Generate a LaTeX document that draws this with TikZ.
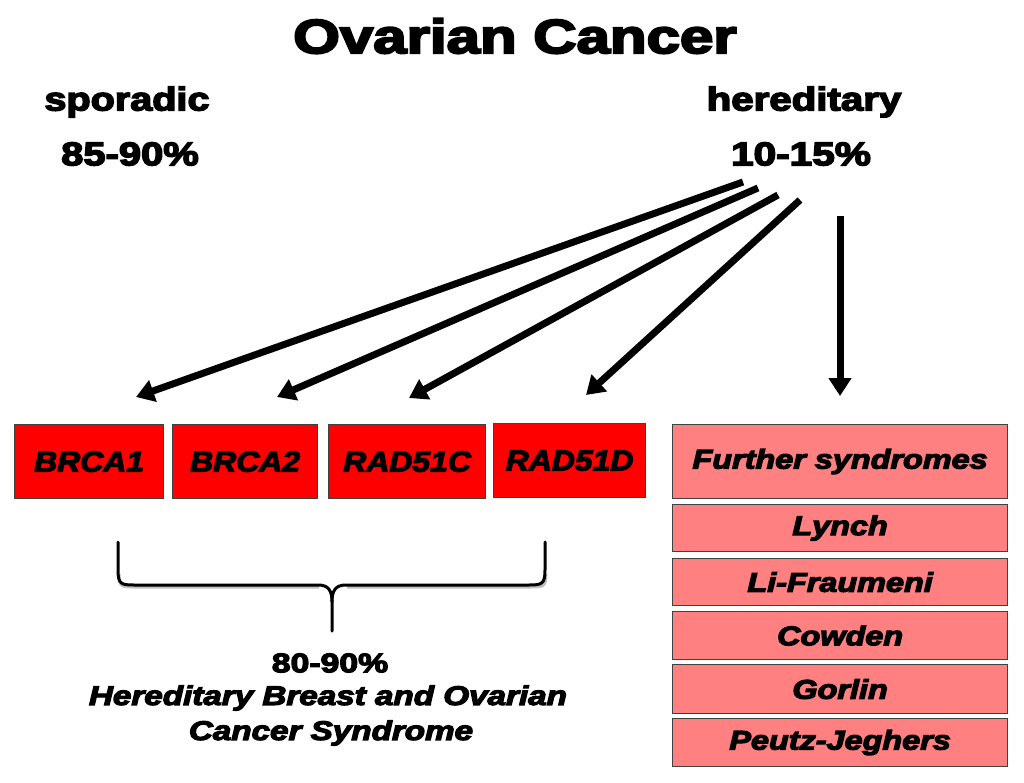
\documentclass[tikz,border=0pt]{standalone}
\usepackage{graphicx}
\usepackage{fontspec}
\setmainfont{Liberation Sans}[BoldFont={Liberation Sans Bold},BoldItalicFont={Liberation Sans Bold Italic},BoldFeatures={FakeBold=4},BoldItalicFeatures={FakeBold=4}]
\usetikzlibrary{arrows.meta}
\definecolor{boxred}{HTML}{FF0000}
\definecolor{boxpink}{HTML}{FF8080}
\definecolor{boxedge}{HTML}{404040}
\newcommand{\hs}[2]{\scalebox{#1}[1]{#2}}
\tikzset{
  genebox/.style={draw=boxedge, line width=1.2pt, fill=boxred, minimum height=74pt, inner sep=0pt, font=\fontsize{29}{32}\selectfont\bfseries\itshape, anchor=north west},
  synbox/.style={draw=boxedge, line width=1.2pt, fill=boxpink, minimum width=335pt, inner sep=0pt, font=\fontsize{27}{30}\selectfont\bfseries\itshape, anchor=north west},
  bigarrow/.style={line width=7pt, -{Triangle[length=18pt,width=22pt]}},
  head/.style={font=\fontsize{33}{36}\selectfont\bfseries},
  foot/.style={font=\fontsize{27}{30}\selectfont\bfseries},
}
\begin{document}
\begin{tikzpicture}[x=1pt,y=-1pt]
\useasboundingbox (0,0) rectangle (1024,783);
% title
\node[font=\fontsize{48}{54}\selectfont\bfseries] (title) at (515,36) {\hs{1.25}{Ovarian Cancer}};
\node[head] (spor) at (127,102) {\hs{1.2}{sporadic}};
\node[head] (sporp) at (130,154) {\hs{1.21}{85-90\%}};
\node[head] (her) at (804,102) {\hs{1.22}{hereditary}};
\node[head] (herp) at (801,154) {\hs{1.23}{10-15\%}};
% gene boxes
\node[genebox, minimum width=149pt] (b1) at (14,424) {\hs{1.1}{BRCA1}};
\node[genebox, minimum width=145pt] (b2) at (172,424) {\hs{1.1}{BRCA2}};
\node[genebox, minimum width=157pt] (b3) at (328,424) {\hs{1.1}{RAD51C}};
\node[genebox, minimum width=152pt] (b4) at (493,423) {\hs{1.1}{RAD51D}};
% syndrome boxes
\node[synbox, minimum height=74pt] (f0) at (672,424) {\hs{1.2}{Further syndromes}};
\node[synbox, minimum height=47pt] (f1) at (672,504) {\hs{1.2}{Lynch}};
\node[synbox, minimum height=47pt] (f2) at (672,558) {\hs{1.2}{Li-Fraumeni}};
\node[synbox, minimum height=48pt] (f3) at (672,611) {\hs{1.2}{Cowden}};
\node[synbox, minimum height=49pt] (f4) at (672,664) {\hs{1.2}{Gorlin}};
\node[synbox, minimum height=48pt] (f5) at (672,718) {\hs{1.2}{Peutz-Jeghers}};
% arrows
\coordinate (s1) at (743,182);
\coordinate (s2) at (758,188);
\coordinate (s3) at (778,195);
\coordinate (s4) at (800,200);
\coordinate (s5) at (840,216);
\coordinate (t1) at (136,397);
\coordinate (t2) at (277,397);
\coordinate (t3) at (409,398);
\coordinate (t4) at (586,395);
\coordinate (t5) at (840,396);
\draw[bigarrow] (s1) -- (t1);
\draw[bigarrow] (s2) -- (t2);
\draw[bigarrow] (s3) -- (t3);
\draw[bigarrow] (s4) -- (t4);
\draw[bigarrow] (s5) -- (t5);
% brace
\coordinate (bl) at (118,542);
\coordinate (br) at (545,542);
\coordinate (bt) at (332,631);
\draw[line width=3pt, black!25, shift={(1pt,-2pt)}] (118,572) .. controls (118,585) and (121,585) .. (134,585) -- (318,585) (346,585) -- (529,585) .. controls (542,585) and (545,585) .. (545,572);
\draw[line width=3pt, line cap=round] (bl) -- (118,570) .. controls (118,584) and (121,585) .. (134,585) -- (318,585) .. controls (328,585) and (332,590) .. (332,602) -- (bt);
\draw[line width=3pt, line cap=round] (br) -- (545,570) .. controls (545,584) and (542,585) .. (529,585) -- (346,585) .. controls (336,585) and (332,590) .. (332,602);
% bottom text
\node[foot] (pct) at (330,663) {\hs{1.25}{80-90\%}};
\node[foot, font=\fontsize{27}{30}\selectfont\bfseries\itshape] (hb1) at (328,698) {\hs{1.23}{Hereditary Breast and Ovarian}};
\node[foot, font=\fontsize{27}{30}\selectfont\bfseries\itshape] (hb2) at (331,733) {\hs{1.23}{Cancer Syndrome}};
\end{tikzpicture}
\end{document}
